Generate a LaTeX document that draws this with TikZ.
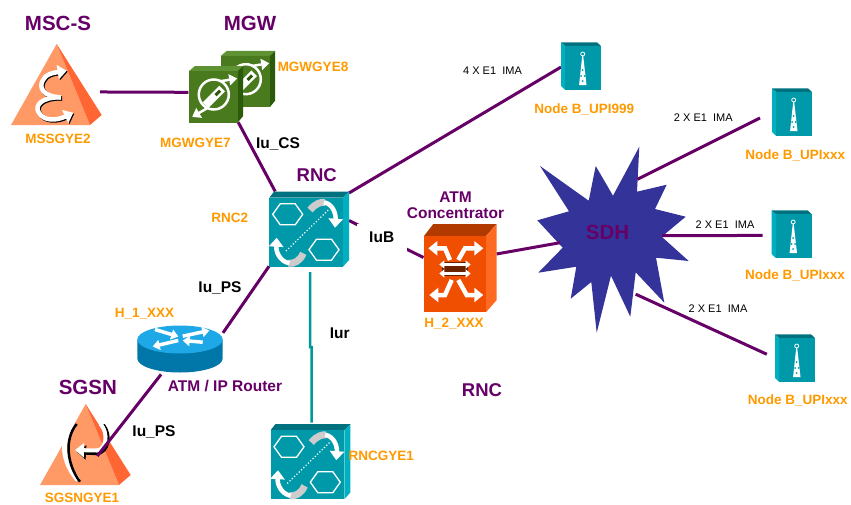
\documentclass[tikz,border=0pt]{standalone}
\usepackage{fontspec}
\setmainfont{Liberation Sans}
\usetikzlibrary{arrows.meta}
\definecolor{netpurple}{HTML}{660066}
\definecolor{netorange}{HTML}{FF9900}
\definecolor{iurteal}{HTML}{009999}
\definecolor{sdhblue}{HTML}{333399}
\definecolor{tealfront}{HTML}{0099AA}
\definecolor{tealtop}{HTML}{00727F}
\definecolor{tealside}{HTML}{00B0C0}
\definecolor{mgwfront}{HTML}{4A7A1E}
\definecolor{mgwtop}{HTML}{5F9232}
\definecolor{mgwside}{HTML}{2B5A0A}
\definecolor{atmfront}{HTML}{F04E00}
\definecolor{atmtop}{HTML}{B03A00}
\definecolor{atmside}{HTML}{FF6A22}
\definecolor{trifront}{HTML}{FF9966}
\definecolor{triside}{HTML}{FF6633}
\definecolor{routertop}{HTML}{1FA8E8}
\definecolor{routerbody}{HTML}{0077A8}
\begin{document}
\begin{tikzpicture}[x=1pt,y=-1pt,inner sep=0pt,outer sep=0pt,
iconspot/.style 2 args={rectangle,minimum width=#1,minimum height=#2},
wanlink/.style={netpurple,line width=3pt},
iurlink/.style={iurteal,line width=2.5pt},
bigtitle/.style={anchor=base,netpurple,font=\bfseries\fontsize{20.5}{24}\selectfont},
midtitle/.style={anchor=base,netpurple,font=\bfseries\fontsize{18.5}{22}\selectfont},
smalltitle/.style={netpurple,font=\bfseries\fontsize{15.5}{15.6}\selectfont},
sitename/.style={anchor=base,netorange,font=\bfseries\fontsize{13.5}{16}\selectfont},
ifname/.style={anchor=base,black,font=\bfseries\fontsize{15.5}{18}\selectfont},
e1name/.style={anchor=base,black,font=\fontsize{11}{13}\selectfont},
whitetip/.style={-{Triangle[length=9pt,width=14pt]}},
triangleicon/.pic={
\fill[trifront] (0.7,-41) -- (-45,40) -- (34,40) -- cycle;
\fill[triside] (0.7,-41) -- (45.7,30) -- (34,40) -- cycle;
},
mscicon/.pic={
\draw (0,0) pic {triangleicon};
\foreach \shade/\off in {black/1,white/0}{
\draw[\shade,line width=4.5pt,whitetip,shift={(\off,\off)}] (5,12.3) .. controls (-12,12) and (-18,3) .. (-13,-5) .. controls (-10,-11) and (-4,-12) .. (10.7,-14.3);
\draw[\shade,line width=4.5pt,whitetip,shift={(\off,\off)}] (5,12.3) .. controls (-14,12) and (-22,20) .. (-17,28) .. controls (-12,36) and (0,36) .. (17.3,27.7);
}
},
sgsnicon/.pic={
\draw (0,0) pic {triangleicon};
\draw[white,line width=5pt] (-11,-19) .. controls (-26,-6) and (-22,18) .. (-7,35);
\draw[black,line width=2.5pt] (-8.3,-21) .. controls (-21,-6) and (-18,20) .. (-5,36.7);
\draw[black,line width=4.5pt,whitetip] (17.7,-20) .. controls (26,-10) and (23,7) .. (11.7,8) -- (-8,7);
\draw[white,line width=4pt,whitetip] (15.7,-21) .. controls (24,-11) and (21,5) .. (11.7,5.5) -- (-10,5);
},
rncicon/.pic={
\fill[tealtop] (-39.7,-31.3) -- (-35,-37.3) -- (40,-37.3) -- (34,-31.3) -- cycle;
\fill[tealside] (34,-31.3) -- (40,-37.3) -- (40,31) -- (34,37.7) -- cycle;
\fill[tealfront] (-39.7,-31.3) rectangle (34,37.7);
\foreach \hx/\hy in {-21.3/-14.7,15/20.7}{
\draw[white,line width=1.3pt] (\hx,\hy) +(-15,0) -- +(-7.5,-10.5) -- +(7.5,-10.5) -- +(15,0) -- +(7.5,10.5) -- +(-7.5,10.5) -- cycle;
}
\draw[white,line width=1.2pt,dotted] (-23,22) -- (19.3,-19);
\draw[black!20,line width=7pt] (1,-19) .. controls (7,-26) and (12,-27) .. (16,-26.7);
\draw[white,line width=4.5pt,whitetip] (15,-26.7) .. controls (24,-25) and (27,-15) .. (26,-1.3);
\draw[black!20,line width=7pt] (-5.7,24.3) .. controls (-9,32) and (-15,35) .. (-20.7,34.3);
\draw[white,line width=4.5pt,whitetip] (-19.7,34.3) .. controls (-30,32) and (-33,22) .. (-32.3,8.7);
},
nodebicon/.pic={
\fill[tealside] (-20,-23.7) -- (-15.7,-20) -- (-15.7,24) -- (-20,20) -- cycle;
\fill[tealtop] (-20,-23.7) -- (16,-23.7) -- (20,-20) -- (-15.7,-20) -- cycle;
\fill[tealfront] (-15.7,-20) rectangle (20,24);
\fill[white] (1.2,-10) -- (2.2,-10) -- (5.5,19) -- (-1.9,19) -- cycle;
\draw[white,line width=.8pt] (1.7,-12) circle (2);
\foreach \dx/\dy in {1.7/4,0/10,3.5/10,1.7/15}{
\fill[tealfront] (\dx,\dy) circle (1);
}
},
mgwicon/.pic={
\fill[mgwtop] (-26.7,-23) -- (-20.7,-28) -- (27.7,-28) -- (22.3,-23) -- cycle;
\fill[mgwside] (22.3,-23) -- (27.7,-28) -- (27.7,21.7) -- (22.3,28.3) -- cycle;
\fill[mgwfront] (-26.7,-23) rectangle (22.3,28.3);
\draw[white,line width=2.5pt] (-1.7,0.3) circle (15);
\draw[white,line width=2.5pt,-{Triangle[length=8pt,width=11pt]}] (5,-13) -- (21.7,-15.7);
\draw[white,line width=2.5pt,-{Triangle[length=8pt,width=11pt]}] (-8.3,14) -- (-23.3,22.7);
\draw[white,line width=8pt] (-10,11) -- (6.7,-5.7);
\draw[mgwside,line width=3pt] (0,1) -- (4.5,-3.5);
},
atmicon/.pic={
\fill[atmtop] (-36,-32) -- (-26.7,-44) -- (36.7,-44) -- (26,-32) -- cycle;
\fill[atmside] (26,-32) -- (36.7,-44) -- (36.7,32) -- (26,44.3) -- cycle;
\fill[atmfront] (-36,-32) rectangle (26,44.3);
\draw[white,line width=4.5pt,whitetip] (-10,-8) -- (-15,-19.7) -- (-31.7,-19.7);
\draw[white,line width=4.5pt,whitetip] (-1.7,-8) -- (5,-19.7) -- (23.3,-19.7);
\draw[white,line width=4.5pt,whitetip] (-8.3,12) -- (-15,27) -- (-30.7,27);
\draw[white,line width=4.5pt,whitetip] (-1.7,12) -- (6.7,27) -- (23.3,27);
\fill[atmtop!60!black] (-18,-6) rectangle (8,8);
\foreach \my in {-3.5,5.5}{
\draw[white,line width=3.5pt,{Triangle[length=5pt,width=8pt]}-{Triangle[length=5pt,width=8pt]}] (-20.7,\my) -- (10.7,\my);
}
},
routericon/.pic={
\fill[routerbody] (-42.7,-9) -- (-42.7,10) arc[start angle=180,end angle=0,x radius=42.7,y radius=14] -- (42.7,-9) -- cycle;
\fill[routertop] (0,-9) ellipse (42.7 and 14);
\draw[white,line width=3.5pt,-{Triangle[length=7pt,width=10pt]}] (-25,-19) -- (-1.7,-12);
\draw[white,line width=3.5pt,-{Triangle[length=7pt,width=10pt]}] (2.7,-12.3) -- (29.3,-18);
\draw[white,line width=3.5pt,-{Triangle[length=7pt,width=10pt]}] (-1.7,-8) -- (-27.3,-2);
\draw[white,line width=3.5pt,-{Triangle[length=7pt,width=10pt]}] (22.7,-6.3) -- (2.7,-8);
}]
\useasboundingbox (0,0) rectangle (851,504);
\draw (56,85) node[iconspot={88pt}{82pt}] (mssgye2) {};
\draw (215.5,94.2) node[iconspot={54.4pt}{56.3pt}] (mgwgye7) {};
\draw (247.5,78.9) node[iconspot={54.4pt}{56.3pt}] (mgwgye8) {};
\draw (309,229) node[iconspot={80pt}{75pt}] (rnc2) {};
\draw (310.3,461.5) node[iconspot={80pt}{78pt}] (rncgye1) {};
\draw (180,348.5) node[iconspot={86pt}{47pt}] (router1) {};
\draw (85,445) node[iconspot={88pt}{84pt}] (sgsngye1) {};
\draw (460,268) node[iconspot={73pt}{88pt}] (atm1) {};
\draw (581,66) node[iconspot={40pt}{48pt}] (nodeb999) {};
\draw (792,112) node[iconspot={40pt}{48pt}] (nodebxa) {};
\draw (791.5,234) node[iconspot={40pt}{48pt}] (nodebxb) {};
\draw (795,358) node[iconspot={40pt}{48pt}] (nodebxc) {};
\coordinate (sdhwest) at (560,242.7);
\coordinate (sdhnorth) at (637.3,179.3);
\coordinate (sdheast) at (662,235.7);
\coordinate (sdhsouth) at (635.7,294.2);
\coordinate (iurtop) at (310,272);
\coordinate (iurjoga) at (310,347);
\coordinate (iurjogb) at (311.7,347);
\coordinate (sgsnend) at (97.3,456);
\fill[sdhblue] (540,166) -- (588.7,200.7) -- (595.7,166) -- (613,195.7) -- (639.3,146.7) -- (637,191.7) -- (666.7,184.7) -- (655,209) -- (685.7,216.7) -- (661.7,236.7) -- (688.7,261) -- (656,257.7) -- (664.3,302.7) -- (635.7,272.3) -- (630.3,316.7) -- (611,275.7) -- (596.7,332.7) -- (591.3,282) -- (570.7,298.7) -- (576.3,266.7) -- (538.3,272.7) -- (562.7,247.7) -- (537.3,220.3) -- (569,211.3) -- cycle;
\draw[wanlink] (mssgye2.-9.4) -- (mgwgye7.176);
\draw[wanlink] (mgwgye7.-51.6) -- (rnc2.132.4);
\draw[wanlink] (rnc2.42.3) -- (nodeb999.183.7);
\draw[wanlink] (rnc2.12.7) -- (atm1.164.2);
\draw[wanlink] (rnc2.223) -- (router1.20.5);
\draw[wanlink] (atm1.21) -- (sdhwest);
\draw[wanlink,shorten >=13.4pt] (sdhnorth) -- (nodebxa.west);
\draw[wanlink,shorten >=9pt] (sdheast) -- (nodebxb.184.9);
\draw[wanlink,shorten >=9pt] (sdhsouth) -- (nodebxc.west);
\draw[iurlink] (iurtop) -- (iurjoga) -- (iurjogb) -- (rncgye1.88);
\draw (mssgye2) pic {mscicon};
\draw (mgwgye8) pic {mgwicon};
\draw (mgwgye7) pic {mgwicon};
\draw (rnc2) pic {rncicon};
\draw (rncgye1) pic {rncicon};
\draw (router1) pic {routericon};
\draw (sgsngye1) pic {sgsnicon};
\draw (atm1) pic {atmicon};
\draw (nodeb999) pic {nodebicon};
\draw (nodebxa) pic {nodebicon};
\draw (nodebxb) pic {nodebicon};
\draw (nodebxc) pic {nodebicon};
\draw[wanlink,shorten <=3pt] (router1.234) -- (sgsnend);
\draw (58,30.3) node[bigtitle] (msctitle) {MSC-S};
\draw (250,30.3) node[bigtitle] (mgwtitle) {MGW};
\draw (87.8,394) node[bigtitle] (sgsntitle) {SGSN};
\draw (607.5,239.2) node[bigtitle] (sdhtitle) {SDH};
\draw (316.7,181.6) node[midtitle] (rnctitle) {RNC};
\draw (482,396.6) node[midtitle] (rnctitleb) {RNC};
\draw (455.5,205.5) node[smalltitle,align=center] (atmtitle) {ATM\\Concentrator};
\draw (225,391.2) node[smalltitle,anchor=base] (routertitle) {ATM / IP Router};
\draw (58,143.8) node[sitename] (mssname) {MSSGYE2};
\draw (195.3,147.5) node[sitename] (mgwnamea) {MGWGYE7};
\draw (313,71.5) node[sitename] (mgwnameb) {MGWGYE8};
\draw (229.7,222) node[sitename] (rncnamea) {RNC2};
\draw (381.3,460.8) node[sitename] (rncnameb) {RNCGYE1};
\draw (454,327) node[sitename] (atmname) {H\_2\_XXX};
\draw (144.5,317) node[sitename] (routername) {H\_1\_XXX};
\draw (82,502) node[sitename] (sgsnname) {SGSNGYE1};
\draw (584.3,113.8) node[sitename] (nbname) {Node B\_UPI999};
\draw (795.2,159.8) node[sitename] (nbnamea) {Node B\_UPIxxx};
\draw (795,279.8) node[sitename] (nbnameb) {Node B\_UPIxxx};
\draw (797.7,404.1) node[sitename] (nbnamec) {Node B\_UPIxxx};
\draw (278,148.5) node[ifname] (iucs) {Iu\_CS};
\draw (220,292.2) node[ifname] (iupsa) {Iu\_PS};
\draw (154,436.2) node[ifname] (iupsb) {Iu\_PS};
\draw (339.7,338.8) node[ifname] (iur) {Iur};
\draw (381.7,237) node[ifname,anchor=center,fill=white,minimum width=50pt,minimum height=27pt] (iub) {IuB};
\draw (492.5,74.9) node[e1name] (e1a) {4 X E1~ IMA};
\draw (703.3,121.2) node[e1name] (e1b) {2 X E1~ IMA};
\draw (725,228.9) node[e1name] (e1c) {2 X E1~ IMA};
\draw (718,312.9) node[e1name] (e1d) {2 X E1~ IMA};
\end{tikzpicture}
\end{document}
